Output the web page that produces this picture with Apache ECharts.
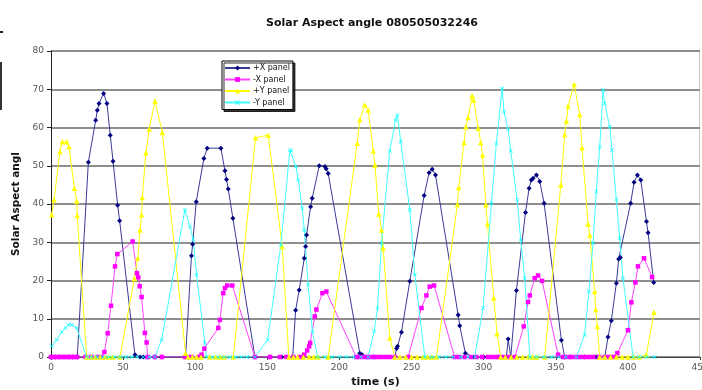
<!DOCTYPE html>
<html>
<head>
<meta charset="utf-8">
<script src="https://cdn.jsdelivr.net/npm/echarts@6/dist/echarts.min.js"></script>
<style>
  html, body { margin: 0; padding: 0; background: #fff; }
  #chart { width: 702px; height: 390px; }
</style>
</head>
<body>
<div id="chart"></div>
<script>
// [time (s), angle (deg)]
const plusX = [
  [0,0],[3,0],[6,0],[9,0],[12,0],[15,0],[18.2,0],[25.9,50.9],[31.0,61.9],[32.1,64.5],[33.3,66.3],
  [36.5,68.9],[38.8,66.3],[41.1,58.0],[43.0,51.2],[46.2,39.7],[47.6,35.6],[58.2,0.6],[61.7,0],[64,0],
  [67,0],[72,0],[76.7,0],[93.3,0],[97.4,26.5],[98.2,29.5],[100.7,40.6],[106.0,51.9],[108.3,54.6],
  [117.8,54.6],[120.6,48.7],[121.7,46.4],[122.9,43.9],[126.1,36.3],[141.4,0],[151.8,0],[160,0],
  [167.6,0],[169.6,12.2],[172.1,17.5],[175.6,25.8],[176.5,28.9],[177.2,31.9],[180.0,39.3],[181.1,41.5],
  [186.0,50.0],[189.9,49.8],[190.8,49.2],[192.2,48.0],[214.1,1.0],[215.7,0.6],[219,0],[224,0],
  [238.4,0],[239.6,2.2],[240.3,2.8],[243,6.5],[248.8,19.8],[258.7,42.2],[262.2,48.2],[264.3,49.1],
  [266.6,47.6],[282.3,11.0],[283.4,8.2],[287.3,1.0],[293,0],[300,0],[310,0],[315.8,0],[317,4.7],
  [318.8,0],[322.7,17.4],[329,37.8],[331.5,44.1],[333.1,46.3],[334.3,46.7],[336.6,47.6],[338.9,45.9],
  [341.9,40.2],[353.9,4.4],[356.2,0],[359.7,0],[370,0],[378,0],[384,0],[386.2,5.2],[388.5,9.5],
  [392,19.3],[393.6,25.6],[394.8,26],[401.9,40.2],[404.3,45.7],[406.6,47.6],[408.9,46.3],[412.9,35.4],
  [414,32.5],[417.9,19.5]
];
const minusX = [
  [0,0],[2,0],[4,0],[6,0],[8,0],[10,0],[12,0],[14,0],[16,0],[18,0],[24,0],[28,0],[32,0],[35,0],
  [37,1.3],[39.3,6.2],[41.6,13.4],[44.4,23.7],[46,26.9],[56.6,30.2],[59.6,21.9],[60.5,20.8],[61.5,18.5],
  [62.8,15.7],[65.1,6.3],[66.3,3.8],[67,0],[72,0],[77,0],[93,0],[95.2,0],[97.5,0],[102,0],[104.4,0.6],
  [106.3,2.2],[116,7.6],[117.1,9.7],[119.4,16.7],[120.6,18],[122.2,18.7],[125.7,18.7],[141.4,0],
  [151.8,0],[158.7,0],[163.3,0],[168,0],[172.6,0],[175.6,0.6],[177.6,1.7],[179,2.8],[179.7,3.7],
  [182.9,10.6],[184,12.4],[188.2,16.7],[190.9,17.1],[211.7,0],[214,0],[217,0],[220,0],[223,0],[226,0],
  [229,0],[232,0],[235,0],[238.4,0],[247.6,0],[256.9,12.8],[260.3,16.1],[262.6,18.4],[265.6,18.7],
  [279.9,0],[283,0],[287,0],[291,0],[295,0],[299,0],[303,0],[306,0],[309,0],[312,0],[315,0],[318,0],
  [321.6,0],[327.8,8.0],[330.8,14.4],[332,16.1],[335.4,20.6],[337.7,21.3],[340.5,19.9],[351.6,0.6],
  [355,0],[358,0],[361,0],[364,0],[367,0],[370,0],[373,0],[376,0],[380,0],[384,0],[387,0],[390,0],
  [392.7,1.0],[400.1,7.0],[402.4,14.3],[405.2,19.5],[407,23.7],[411.2,25.8],[416.8,20.9]
];
const plusY = [
  [0.5,37.2],[2.1,41.1],[6.2,53.7],[7.9,56.3],[10.9,56.3],[12.5,55.0],[16.2,44.1],[17.8,40.8],[18.2,37.0],
  [24.7,0],[28,0],[31,0],[34,0],[37,0],[40,0],[43,0],[47.8,0],[57.8,20.6],[60.1,25.8],[61.7,33.2],
  [62.8,37.2],[63.3,41.7],[65.8,53.4],[68.1,59.6],[72.1,66.9],[77.2,58.7],[93.3,1.0],[95,0],[98,0],
  [101,0],[104,0],[110,0],[114,0],[117,0],[120,0],[126.4,0],[141.8,57.3],[150.6,58.0],[160.3,28.9],
  [164.9,0],[168,0],[171,0],[175,0],[179,0],[182,0],[185,0],[192.2,0],[212.3,55.9],[214.1,62],
  [217.6,65.9],[219.9,64.6],[223.4,53.9],[224.6,50.2],[227.3,37.4],[229.2,33.2],[230.3,28.5],[234.9,5.0],
  [238.4,0],[242,0],[246,0],[250,0],[254,0],[258,0],[261,0],[264,0],[267.3,0],[281.8,39.9],[282.7,44.3],
  [286.4,56.1],[287.6,60.2],[289.2,62.6],[292,68.3],[293.1,67.2],[296.2,59.8],[298,56.1],[299.2,52.8],
  [301.5,39.8],[302.6,34.8],[307,15.4],[309.3,6.1],[311.8,0],[315,0],[319,0],[323,0],[327,0],[331,0],
  [334,0],[337,0],[342.3,0],[353.5,45.0],[356.2,58.2],[357.4,61.7],[358.5,65.6],[362.7,71.3],[366.6,63.4],
  [368.2,54.7],[372.4,34.8],[373.6,31.9],[377,17.1],[377.7,12.4],[378.8,8.0],[380.4,0],[384,0],[388,0],
  [392,0],[396,0],[400,0],[404,0],[408,0],[412.8,0.6],[418.1,11.7]
];
const minusY = [
  [0.5,2.8],[3.9,4.5],[7.4,6.5],[10,7.6],[12,8.4],[14.3,8.4],[17.8,7.6],[24.7,0],[28,0],[32,0],[36,0],
  [40,0],[44,0],[48,0],[52,0],[56,0],[60,0],[64,0],[68,0],[72.1,0],[76.7,4.5],[92.9,38.5],[96.3,34.1],
  [98.6,30.8],[100.9,21.5],[106.7,3.7],[107.9,0],[112,0],[116,0],[120,0],[124,0],[128,0],[132,0],[136,0],
  [141.4,0],[150.2,4.5],[159.4,29.3],[165.6,54.1],[166.8,53.9],[169.8,49.8],[171.4,46.3],[174.2,38.9],
  [175.6,33.2],[178.3,18.9],[181.3,6.7],[184.8,0],[190,0],[195,0],[200,0],[205,0],[210,0],[215,0],
  [219.9,0],[224.1,6.7],[226.4,12.8],[229.2,29.8],[234.9,53.9],[238.9,62],[240.2,63.3],[242.5,56.3],
  [248.8,38.5],[252.3,21.5],[259.2,0],[264,0],[269,0],[274,0],[279,0],[284,0],[289,0],[293.8,0],
  [299.6,12.8],[305.4,40.2],[308.8,55.9],[312.8,70.2],[314.1,64.1],[316.9,59.6],[318.8,53.9],[323.2,41.1],
  [325.7,30.6],[328.5,20.6],[332,0],[337,0],[342,0],[347,0],[352,0],[357,0],[364.3,0],[370,5.8],
  [373,17.1],[375.8,29.8],[378.1,43.3],[380.5,55],[382.8,69.8],[383.9,66.3],[387.4,60.2],[389,54.1],
  [392,41.1],[394.3,31.1],[396.6,20.6],[403.6,0],[408,0],[413,0],[418.6,0]
];

const seriesNames = ["+X panel", "-X panel", "+Y panel", "-Y panel"];
const titleText = "Solar Aspect angle 080505032246";

const chart = echarts.init(document.getElementById("chart"));

const font = "DejaVu Sans";
const xMark = "path://M0,1 L1,0 L5,4 L9,0 L10,1 L6,5 L10,9 L9,10 L5,6 L1,10 L0,9 L4,5 Z";

function lineSeries(name, data, color, lineColor, symbol, size) {
  return {
    name: name,
    type: "line",
    data: data,
    symbol: symbol,
    symbolSize: size,
    showAllSymbol: true,
    animation: false,
    lineStyle: { color: lineColor, width: 1 },
    itemStyle: { color: color, borderWidth: 0 },
    emphasis: { disabled: true }
  };
}

const option = {
  animation: false,
  title: {
    text: titleText,
    left: 367,
    textAlign: "center",
    top: 13,
    textStyle: { fontFamily: font, fontSize: 11, fontWeight: "bold", color: "#111" }
  },
  legend: {
    orient: "vertical",
    left: 222,
    top: 61,
    data: seriesNames,
    itemWidth: 25,
    itemHeight: 6,
    itemGap: 3.5,
    padding: [3, 3, 3, 2],
    backgroundColor: "#fff",
    borderColor: "#000",
    borderWidth: 1,
    borderRadius: 0,
    shadowColor: "rgba(0,0,0,0.8)",
    shadowOffsetX: 2,
    shadowOffsetY: 2,
    shadowBlur: 0,
    textStyle: { fontFamily: font, fontSize: 8, color: "#111", padding: [0, 0, 0, -2] }
  },
  grid: { left: 51, right: 2, top: 51, bottom: 33, outerBoundsMode: "none" },
  xAxis: {
    type: "value",
    min: 0,
    max: 450,
    interval: 50,
    name: "time (s)",
    nameLocation: "middle",
    nameGap: 20,
    nameTextStyle: { fontFamily: font, fontSize: 11, fontWeight: "bold", color: "#111" },
    axisLine: { lineStyle: { color: "#444", width: 1 } },
    axisTick: { inside: false, length: 3, lineStyle: { color: "#444" } },
    axisLabel: { fontFamily: font, fontSize: 9, color: "#555", margin: 6 },
    splitLine: { show: false }
  },
  yAxis: {
    type: "value",
    min: 0,
    max: 80,
    interval: 10,
    name: "Solar Aspect angl",
    nameLocation: "middle",
    nameGap: 27,
    nameTextStyle: { fontFamily: font, fontSize: 10.5, fontWeight: "bold", color: "#111" },
    axisLine: { show: true, lineStyle: { color: "#222", width: 1 } },
    axisTick: { show: true, length: 4, lineStyle: { color: "#222" } },
    axisLabel: { fontFamily: font, fontSize: 9, color: "#555", margin: 7 },
    splitLine: { lineStyle: { color: "#8e8e8e", width: 2 } }
  },
  graphic: [
    { type: "rect", left: 699, top: 50, shape: { width: 1, height: 307 }, style: { fill: "#c8c8c8" } },
    { type: "rect", left: 51, top: 50, shape: { width: 649, height: 1 }, style: { fill: "#c8c8c8" } },
    { type: "rect", left: 0, top: 31, shape: { width: 3, height: 2 }, style: { fill: "#222" } },
    { type: "rect", left: 0, top: 62, shape: { width: 2, height: 48 }, style: { fill: "#333" } }
  ],
  series: [
    lineSeries(seriesNames[0], plusX, "#000080", "#3a3a96", "diamond", 5),
    lineSeries(seriesNames[1], minusX, "#ff00ff", "#ff40ff", "rect", 4.5),
    lineSeries(seriesNames[2], plusY, "#ffff00", "#ffff00", "triangle", 5.5),
    lineSeries(seriesNames[3], minusY, "#00ffff", "#40ffff", xMark, 4)
  ]
};

chart.setOption(option);
</script>
</body>
</html>
